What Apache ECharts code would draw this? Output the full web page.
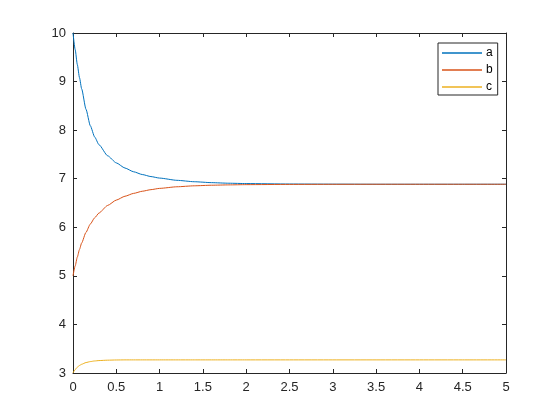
<!DOCTYPE html>
<html>
<head>
<meta charset="utf-8">
<script src="https://cdn.jsdelivr.net/npm/echarts@6/dist/echarts.min.js"></script>
<style>html,body{margin:0;padding:0;background:#fff;}#chart{width:560px;height:420px;}</style>
</head>
<body>
<div id="chart"></div>
<script>
var tValues = [0, 0.025, 0.05, 0.075, 0.1, 0.15, 0.2, 0.25, 0.3, 0.4, 0.5, 0.6, 0.7, 0.8, 0.9, 1.0, 1.2, 1.4, 1.6, 1.8, 2.0, 2.5, 3.0, 3.5, 4.0, 4.5, 5.0];
var aValues = [10, 9.66, 9.35, 9.08, 8.85, 8.43, 8.09, 7.86, 7.70, 7.472, 7.326, 7.22, 7.143, 7.086, 7.044, 7.013, 6.967, 6.938, 6.919, 6.907, 6.90, 6.891, 6.888, 6.886, 6.886, 6.886, 6.886];
var bValues = [5.0, 5.204, 5.387, 5.543, 5.677, 5.896, 6.067, 6.195, 6.294, 6.45, 6.56, 6.639, 6.698, 6.742, 6.775, 6.801, 6.834, 6.854, 6.866, 6.873, 6.878, 6.883, 6.885, 6.886, 6.886, 6.886, 6.886];
var cValues = [3.0, 3.07, 3.12, 3.155, 3.18, 3.215, 3.235, 3.248, 3.256, 3.264, 3.268, 3.27, 3.27, 3.27, 3.27, 3.27, 3.27, 3.27, 3.27, 3.27, 3.27, 3.27, 3.27, 3.27, 3.27, 3.27, 3.27];
var seriesNames = ['a', 'b', 'c'];
var xTicks = [0, 0.5, 1, 1.5, 2, 2.5, 3, 3.5, 4, 4.5, 5];
var yTicks = [3, 4, 5, 6, 7, 8, 9, 10];

function pairs(ys) { return tValues.map(function (t, i) { return [t, ys[i]]; }); }

var axisColor = '#262626';
var fontFam = 'Liberation Sans, Arial, sans-serif';
var chart = echarts.init(document.getElementById('chart'), null, { renderer: 'canvas' });

function xAx(pos, showLabel) {
  return {
    type: 'value', position: pos, min: xTicks[0], max: xTicks[xTicks.length - 1], interval: 0.5,
    axisLine: { show: true, onZero: false, lineStyle: { color: axisColor, width: 1 } },
    axisTick: { show: true, inside: true, length: 4, lineStyle: { color: axisColor } },
    axisLabel: { show: showLabel, color: axisColor, fontSize: 13, fontFamily: fontFam, margin: 8 },
    splitLine: { show: false }
  };
}
function yAx(pos, showLabel) {
  return {
    type: 'value', position: pos, min: yTicks[0], max: yTicks[yTicks.length - 1], interval: 1,
    axisLine: { show: true, onZero: false, lineStyle: { color: axisColor, width: 1 } },
    axisTick: { show: true, inside: true, length: 4, lineStyle: { color: axisColor } },
    axisLabel: { show: showLabel, color: axisColor, fontSize: 13, fontFamily: fontFam, margin: 7 },
    splitLine: { show: false }
  };
}

var colors = ['#0072BD', '#D95319', '#EDB120'];
var allValues = [aValues, bValues, cValues];

chart.setOption({
  animation: false,
  backgroundColor: '#ffffff',
  grid: { left: 73, right: 54, top: 33, height: 340, containLabel: false },
  xAxis: [xAx('bottom', true), xAx('top', false)],
  yAxis: [yAx('left', true), yAx('right', false)],
  legend: {
    orient: 'vertical', left: 438, top: 43,
    data: seriesNames.map(function (n, i) {
      return { name: n, icon: 'rect', itemStyle: { color: colors[i], borderColor: colors[i], borderWidth: 0, opacity: 1 } };
    }),
    itemWidth: 40, itemHeight: 1.4, itemGap: 3,
    padding: [3, 5, 1, 4],
    borderColor: '#262626', borderWidth: 1, backgroundColor: '#fff',
    textStyle: { color: '#000', fontSize: 12, fontFamily: fontFam, lineHeight: 14, padding: [0, 0, 0, -1] }
  },
  series: seriesNames.map(function (n, i) {
    return {
      name: n, type: 'line', xAxisIndex: 0, yAxisIndex: 0,
      data: pairs(allValues[i]), showSymbol: false, symbol: 'none',
      smooth: 0.2, smoothMonotone: 'x',
      lineStyle: { color: colors[i], width: 1 }, itemStyle: { color: colors[i] }
    };
  })
});
</script>
</body>
</html>
